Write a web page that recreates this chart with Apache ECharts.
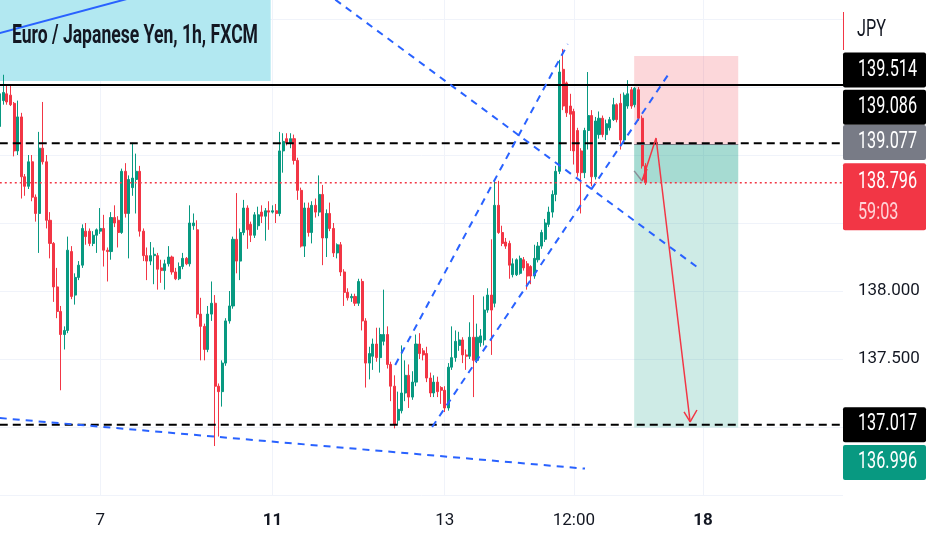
<!DOCTYPE html>
<html>
<head>
<meta charset="utf-8">
<script src="https://cdn.jsdelivr.net/npm/echarts@6/dist/echarts.min.js"></script>
<style>
  html, body { margin: 0; padding: 0; background: #fff; }
  #chart { width: 932px; height: 550px; }
</style>
</head>
<body>
<div id="chart"></div>
<script>
(function() {
  var upColor = '#089981';
  var downColor = '#f23645';
  var ink = '#131722';
  var gridColor = '#f0f3fa';
  var axisFont = 'Roboto, sans-serif';

  // hourly candles, [open, high, low, close]
  var ohlc = [
    [139.21,139.48,139.19,139.45],[139.40,139.59,139.37,139.46],[139.45,139.52,139.37,139.39],[139.44,139.52,139.36,139.37],
    [139.38,139.39,138.99,139.03],[139.03,139.40,139.00,139.28],[139.28,139.31,138.68,138.84],[138.84,138.86,138.70,138.77],
    [138.77,139.00,138.75,138.95],[138.95,139.00,138.66,138.69],[138.69,138.71,138.51,138.57],[138.57,139.17,138.28,139.05],
    [139.05,139.39,138.93,138.95],[138.95,139.00,138.46,138.52],[138.52,138.58,138.24,138.35],[138.35,138.36,137.92,138.03],
    [138.03,138.17,137.80,137.85],[137.85,137.89,137.27,137.68],[137.68,137.74,137.57,137.71],[137.71,138.40,137.69,138.30],
    [138.29,138.33,137.94,137.96],[137.97,138.13,137.90,138.10],[138.10,138.22,138.08,138.19],[138.19,138.49,138.17,138.46],
    [138.44,138.50,138.34,138.40],[138.44,138.46,138.33,138.35],[138.35,138.44,138.33,138.41],[138.41,138.46,138.28,138.45],
    [138.44,138.61,138.42,138.46],[138.46,138.56,138.18,138.30],[138.30,138.32,138.07,138.29],[138.29,138.58,138.23,138.54],
    [138.54,138.63,138.47,138.50],[138.52,138.55,138.32,138.43],[138.43,138.90,138.42,138.88],[138.88,138.94,138.54,138.57],
    [138.57,138.85,138.24,138.82],[138.76,139.09,138.70,138.83],[138.82,139.01,138.57,138.88],[138.88,138.92,138.40,138.44],
    [138.44,138.46,138.22,138.26],[138.26,138.32,138.08,138.22],[138.22,138.36,138.19,138.26],[138.26,138.32,138.05,138.27],
    [138.26,138.28,138.01,138.16],[138.17,138.23,138.06,138.15],[138.15,138.23,138.01,138.20],[138.20,138.33,138.18,138.25],
    [138.25,138.26,138.12,138.14],[138.14,138.17,138.08,138.09],[138.09,138.21,138.08,138.18],[138.18,138.28,138.16,138.24],
    [138.24,138.25,138.19,138.20],[138.20,138.63,138.18,138.50],[138.48,138.57,138.45,138.50],[138.45,138.52,137.80,137.83],
    [137.83,137.95,137.49,137.74],[137.74,137.76,137.49,137.57],[137.57,137.89,137.55,137.83],[137.83,138.07,137.78,137.91],
    [137.91,137.97,136.86,137.30],[137.30,137.32,136.93,137.26],[137.26,137.49,137.15,137.47],[137.47,137.80,137.45,137.78],
    [137.78,138.00,137.76,137.89],[137.89,138.40,137.87,138.38],[138.38,138.72,138.13,138.22],[138.22,138.46,138.08,138.43],
    [138.43,138.67,138.41,138.61],[138.61,138.63,138.31,138.45],[138.49,138.51,138.36,138.41],[138.41,138.58,138.39,138.56],
    [138.48,138.62,138.45,138.56],[138.58,138.63,138.50,138.55],[138.55,138.61,138.37,138.59],[138.59,138.66,138.45,138.58],
    [138.58,138.63,138.57,138.59],[138.59,138.64,138.50,138.57],[138.57,139.17,138.55,139.03],[139.03,139.16,138.87,139.10],
    [139.12,139.16,139.07,139.09],[139.09,139.16,139.05,139.12],[139.12,139.15,138.93,138.96],[138.96,138.98,138.67,138.74],
    [138.74,138.76,138.32,138.33],[138.33,138.65,138.25,138.61],[138.61,138.65,138.40,138.43],[138.43,138.66,138.35,138.63],
    [138.63,138.68,138.54,138.58],[138.58,138.85,138.55,138.71],[138.71,138.78,138.19,138.39],[138.39,138.60,138.25,138.57],
    [138.57,138.65,138.44,138.46],[138.46,138.50,138.25,138.28],[138.28,138.35,138.24,138.34],[138.34,138.36,138.11,138.14],
    [138.14,138.16,137.89,137.99],[137.99,138.02,137.93,137.95],[137.95,137.98,137.92,137.96],[137.96,137.98,137.89,137.91],
    [137.91,138.09,137.89,138.07],[138.07,138.09,137.71,137.78],[137.78,137.80,137.29,137.47],[137.47,137.59,137.35,137.54],
    [137.52,137.65,137.42,137.61],[137.61,137.73,137.48,137.51],[137.51,137.73,137.40,137.68],[137.63,138.01,137.60,137.68],
    [137.68,137.74,137.43,137.46],[137.46,137.48,137.19,137.30],[137.30,137.38,136.99,137.02],[137.05,137.26,137.02,137.13],
    [137.12,137.60,137.10,137.25],[137.25,137.49,137.19,137.38],[137.38,137.46,137.14,137.22],[137.22,137.41,137.20,137.33],
    [137.33,137.68,137.30,137.61],[137.61,137.69,137.50,137.54],[137.56,137.58,137.49,137.53],[137.54,137.59,137.33,137.36],
    [137.36,137.40,137.22,137.25],[137.25,137.38,137.22,137.33],[137.33,137.37,137.22,137.26],[137.29,137.30,137.17,137.27],
    [137.27,137.30,137.11,137.14],[137.14,137.47,137.12,137.44],[137.44,137.74,137.42,137.51],[137.51,137.71,137.48,137.63],
    [137.60,137.70,137.56,137.64],[137.64,137.66,137.47,137.53],[137.53,137.57,137.42,137.52],[137.52,137.77,137.50,137.66],
    [137.66,137.97,137.22,137.49],[137.49,137.76,137.47,137.66],[137.62,137.72,137.59,137.67],[137.64,137.96,137.60,137.86],
    [137.86,138.02,137.84,137.97],[137.97,138.38,137.53,137.86],[137.91,138.81,137.88,138.63],[138.63,138.81,138.42,138.43],
    [138.43,138.48,138.33,138.35],[138.36,138.39,138.31,138.33],[138.35,138.37,138.09,138.19],[138.12,138.24,138.10,138.20],
    [138.12,138.24,138.11,138.23],[138.13,138.26,138.12,138.24],[138.23,138.25,138.15,138.17],[138.20,138.22,138.01,138.11],
    [138.18,138.19,138.05,138.11],[138.11,138.34,138.09,138.24],[138.23,138.36,138.21,138.33],[138.33,138.45,138.31,138.43],
    [138.38,138.53,138.36,138.50],[138.49,138.62,138.47,138.58],[138.58,138.74,138.54,138.71],[138.71,138.92,138.66,138.88],
    [138.88,139.70,138.86,139.61],[139.63,139.78,139.33,139.36],[139.53,139.54,139.28,139.31],[139.36,139.45,139.03,139.30],
    [139.32,139.34,138.93,139.03],[139.18,139.20,138.84,138.87],[139.03,139.05,138.57,138.87],[138.87,139.20,138.83,139.18],
    [139.18,139.61,139.04,139.29],[139.29,139.33,138.77,138.84],[138.84,139.28,138.82,139.25],[139.15,139.32,139.12,139.27],
    [139.27,139.29,139.13,139.15],[139.15,139.26,139.11,139.23],[139.20,139.28,139.18,139.26],[139.26,139.42,139.25,139.37],
    [139.37,139.38,139.24,139.26],[139.38,139.45,139.04,139.11],[139.11,139.46,139.08,139.44],[139.36,139.55,139.34,139.45],
    [139.48,139.50,139.34,139.36],[139.37,139.50,139.35,139.49],[139.48,139.50,139.25,139.27],[139.27,139.29,138.90,138.92],
    [138.92,138.94,138.78,138.796]
  ];

  // hourly slots (weekends skipped), first slot is day 5 20:00
  var sessionDays = [5, 6, 7, 8, 11, 12, 13, 14, 15, 18, 19];
  var slotCount = 236;
  var categories = [];
  for (var j = 0; j < slotCount; j++) {
    var t = j + 20;
    var hh = t % 24;
    categories.push(sessionDays[Math.floor(t / 24)] + ' ' + (hh < 10 ? '0' : '') + hh + ':00');
  }
  var tickCats = ['7 00:00', '11 00:00', '13 00:00', '14 12:00', '18 00:00'];
  var tickText = ['7', '11', '13', '12:00', '18'];
  var boldTicks = ['11', '18'];
  var tickSlots = tickCats.map(function(c) { return categories.indexOf(c); });

  // drawings, in [slot, price]
  var hLevels = [139.514, 139.086, 137.017];
  var lastPrice = 138.796;
  var infoBox = [[0, 139.544], [75.5, 140.5]];
  var posSpan = [176.8, 205.8];
  var posStop = 139.728;
  var posEntry = 139.077;
  var posTarget = 136.996;
  var solidTrend = [[0, 139.897], [55.8, 140.291]];
  var dashTrends = [
    [[0, 137.066], [163.1, 136.694]],
    [[90.6, 140.199], [195.2, 138.159]],
    [[110.2, 137.456], [158.3, 139.816]],
    [[120.5, 137.000], [186.8, 139.611]]
  ];
  var arrowPath = [[179.0, 138.809], [182.9, 139.125], [192.4, 137.037]];
  var arrowHead = [[190.7, 137.111], [192.4, 137.037], [194.3, 137.125]];
  var arrowTail = [[180.4, 138.897], [179.0, 138.809]];
  var arrowTailGray = [[176.8, 138.883], [179.0, 138.809]];

  // price scale tags
  var tagPrices = [139.514, 139.086, 139.077, 138.796, 137.017, 136.996];
  var countdown = '59:03';
  var hiddenAxisLabels = [136.5, 137, 139, 139.5, 140, 140.5];

  var candleData = ohlc.map(function(r, i) { return [i, r[0], r[3], r[2], r[1]]; });
  var lastSlot = slotCount - 1;

  function lineSeries(data, color, width, type, z) {
    return {
      type: 'line', data: data, symbol: 'none',
      silent: true, animation: false, z: z || 5, clip: true,
      lineStyle: { color: color, width: width, type: type || 'solid' }
    };
  }

  function rectSeries(rects, z) {
    return {
      type: 'custom', silent: true, animation: false, z: z || 1,
      data: rects.map(function(r) { return [r[0], r[1], r[2], r[3]]; }),
      renderItem: function(params, api) {
        var p1 = api.coord([api.value(0), api.value(3)]);
        var p2 = api.coord([api.value(2), api.value(1)]);
        return {
          type: 'rect',
          shape: { x: p1[0], y: p1[1], width: p2[0] - p1[0], height: p2[1] - p1[1] },
          style: { fill: rects[params.dataIndex][4] }
        };
      }
    };
  }

  var series = [
    rectSeries([
      [infoBox[0][0], infoBox[0][1], infoBox[1][0], infoBox[1][1], '#b2e8f1'],
      [posSpan[0], posEntry, posSpan[1], posStop, 'rgba(242,54,69,0.2)'],
      [posSpan[0], posTarget, posSpan[1], posEntry, 'rgba(8,153,129,0.2)'],
      [posSpan[0], lastPrice, posSpan[1], posEntry, 'rgba(8,153,129,0.2)']
    ], 1),
    {
      type: 'candlestick',
      data: candleData,
      encode: { x: 0, y: [1, 2, 3, 4] },
      barWidth: 2.6,
      animation: false,
      z: 3,
      itemStyle: {
        color: upColor, color0: downColor,
        borderColor: upColor, borderColor0: downColor, borderWidth: 1
      }
    },
    lineSeries([[posSpan[0], posEntry], [posSpan[1], posEntry]], '#787b86', 1, 'solid', 4),
    lineSeries([[0, hLevels[0]], [lastSlot, hLevels[0]]], '#000000', 2, 'solid'),
    lineSeries([[0, hLevels[1]], [lastSlot, hLevels[1]]], '#000000', 2, [8, 5]),
    lineSeries([[0, hLevels[2]], [lastSlot, hLevels[2]]], '#000000', 2, [8, 5]),
    lineSeries([[0, lastPrice], [lastSlot, lastPrice]], downColor, 1.5, [2, 3]),
    lineSeries(solidTrend, '#2962ff', 2, 'solid'),
    lineSeries(arrowPath, downColor, 1.5, 'solid', 6),
    lineSeries(arrowHead, downColor, 1.5, 'solid', 6),
    lineSeries(arrowTail, downColor, 1.5, 'solid', 6),
    lineSeries(arrowTailGray, '#8a8d96', 1.5, 'solid', 6)
  ];
  dashTrends.forEach(function(seg) {
    series.push(lineSeries(seg, '#2962ff', 2, [7, 6]));
  });

  var chart = echarts.init(document.getElementById('chart'), null, { renderer: 'canvas' });
  chart.setOption({
    animation: false,
    backgroundColor: '#ffffff',
    grid: { left: -0.24, right: 89, top: -49, bottom: 55, containLabel: false, outerBoundsMode: 'none' },
    xAxis: {
      type: 'value',
      min: 0,
      max: lastSlot,
      axisLine: { show: false },
      axisTick: { show: false, customValues: tickSlots },
      axisLabel: {
        customValues: tickSlots,
        margin: 17,
        color: ink,
        fontSize: 17,
        fontFamily: axisFont,
        formatter: function(v) {
          var k = tickSlots.indexOf(Math.round(v));
          if (k < 0) return '';
          var s = tickText[k];
          return boldTicks.indexOf(s) >= 0 ? '{b|' + s + '}' : s;
        },
        rich: { b: { fontWeight: 'bold', fontSize: 17, fontFamily: axisFont, color: ink } }
      },
      splitLine: { show: true, lineStyle: { color: gridColor, width: 1 } }
    },
    yAxis: {
      type: 'value',
      position: 'right',
      min: 136.5,
      max: 140.5,
      interval: 0.5,
      axisLine: { show: false },
      axisTick: { show: false },
      axisLabel: {
        margin: 15,
        color: ink,
        fontSize: 17,
        fontFamily: axisFont,
        formatter: function(v) {
          for (var i = 0; i < hiddenAxisLabels.length; i++) {
            if (Math.abs(v - hiddenAxisLabels[i]) < 1e-6) return '';
          }
          return v.toFixed(3);
        }
      },
      splitLine: { show: true, lineStyle: { color: gridColor, width: 1 } }
    },
    series: series
  });

  // price scale tags and the symbol title
  var ctx = document.createElement('canvas').getContext('2d');
  var tagFont = '23px Roboto';
  ctx.font = tagFont;
  var sx = 59 / ctx.measureText('139.514').width;
  var titleFont = 'bold 26px Roboto';
  var titleText = 'Euro / Japanese Yen, 1h, FXCM';
  ctx.font = titleFont;
  var titleSx = 246 / ctx.measureText(titleText).width;

  var tagFill = ['#000000', '#000000', '#787b86', downColor, '#000000', upColor];
  var tagShift = [-15, -36, -2, 0, 0, 35];
  var graphics = [
    { type: 'text', x: 12, y: 36, scaleX: titleSx, z: 100,
      style: { text: titleText, font: titleFont, fill: ink, textVerticalAlign: 'middle' } },
    { type: 'text', x: 857, y: 30, scaleX: sx, z: 100,
      style: { text: 'JPY', font: tagFont, fill: ink, textVerticalAlign: 'middle' } },
    { type: 'line', z: 100, shape: { x1: 843.5, y1: 12, x2: 843.5, y2: 50 },
      style: { stroke: downColor, lineWidth: 1 } }
  ];
  tagPrices.forEach(function(p, i) {
    var y = chart.convertToPixel({ yAxisIndex: 0 }, p) + tagShift[i];
    var isLast = (p === lastPrice);
    graphics.push({
      type: 'rect', z: 100,
      shape: { x: 843, y: isLast ? y - 19.5 : y - 17.5, width: 83, height: isLast ? 67 : 35, r: 2 },
      style: { fill: tagFill[i] }
    });
    graphics.push({
      type: 'text', x: 858, y: y, scaleX: sx, z: 101,
      style: { text: p.toFixed(3), font: tagFont, fill: '#ffffff', textVerticalAlign: 'middle' }
    });
    if (isLast) {
      graphics.push({
        type: 'text', x: 858, y: y + 31, scaleX: sx, z: 101,
        style: { text: countdown, font: tagFont, fill: '#ffd3d7', textVerticalAlign: 'middle' }
      });
    }
  });
  chart.setOption({ graphic: graphics });
})();
</script>
</body>
</html>
